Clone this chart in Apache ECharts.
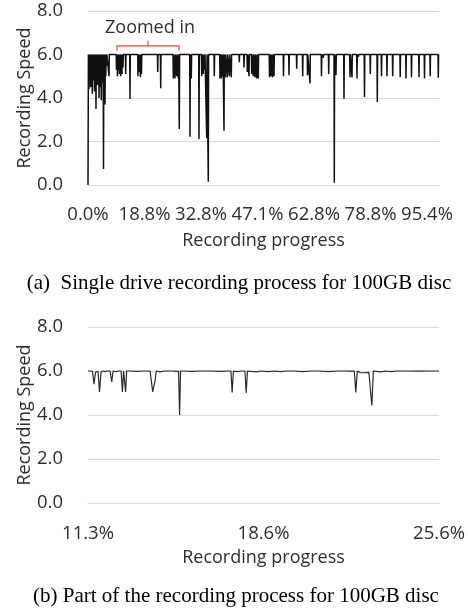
<!DOCTYPE html>
<html><head><meta charset="utf-8">
<script src="https://cdn.jsdelivr.net/npm/echarts@6/dist/echarts.min.js"></script>
<style>html,body{margin:0;padding:0;background:#fff}#c{width:468px;height:615px}</style>
</head><body><div id="c"></div>
<script>
// ---- Data ----
const yTicks = [0, 2, 4, 6, 8];
// (a) full recording: x = sample index, y = speed
const progressLabelsA = ['0.0%', '18.8%', '32.8%', '47.1%', '62.8%', '78.8%', '95.4%'];
const labelStepA = 113;
const sampleMaxA = 702;
const speedA = [
[0,0],[0.8,6.0],
[2,4.4],[3,6.0],[4,5.3],[4.7,6.0],[5.4,4.5],[6.2,6.0],[7,5.0],[7.8,6.0],[8.6,4.2],[9.3,6.0],[10,5.5],[10.7,6.0],
[11.4,4.8],[12.2,6.0],[13,4.3],[13.8,6.0],[14.6,5.2],[15.3,6.0],[16,3.5],[16.7,6.0],[17.4,4.9],[18.2,6.0],[19,4.6],
[19.8,6.0],[20.6,5.4],[21.3,6.0],[22,4.0],[22.8,6.0],[23.6,4.5],[24.3,6.0],[25,5.1],[25.8,6.0],[26.6,3.9],[27.3,6.0],
[28,4.7],[28.8,6.0],[29.6,5.3],[30.3,6.0],[31,0.74],[31.7,6.0],[32.4,4.6],[33.2,6.0],[34,3.7],[34.8,6.0],[35.6,5.0],
[36.3,6.0],[37,5.5],[37.7,6.0],
[41.4,6.0],[42,5.0],[42.6,6.0],
[56.4,6.0],[57,5.3],[57.6,6.0],[58.4,6.0],[59,5.0],[59.6,6.0],[60.4,6.0],[61,5.3],[61.6,6.0],[62.4,6.0],[63,5.1],[63.6,6.0],
[64.8,6.0],[65.4,5.0],[66,6.0],[67.4,6.0],[68,5.1],[68.6,6.0],[69.4,6.0],[70,5.4],[70.6,6.0],
[74.8,6.0],[75.4,5.1],[76,6.0],[83.4,6.0],[84,3.95],[84.6,6.0],
[99.4,6.0],[100,5.0],[100.6,6.0],[101.4,6.0],[102,5.2],[102.6,6.0],[104.4,6.0],[105,4.96],[105.6,6.0],[106.4,6.0],[107,5.1],[107.6,6.0],
[138.8,6.0],[139.4,5.2],[140,6.0],[144.8,6.0],[145.4,4.45],[146,6.0],
[170,6.0],[170.6,4.9],[171.2,6.0],[173.4,6.0],[174,4.9],[174.6,6.0],[176.8,6.0],[177.4,5.0],[178,6.0],[180,6.0],[180.6,4.9],[181.2,6.0],
[182,6.0],[182.6,2.57],[183.2,6.0],
[203.4,6.0],[204,2.22],[204.6,6.0],[206,6.0],[206.6,4.9],[207.2,6.0],
[221.4,6.0],[222,2.11],[222.6,6.0],[226.8,6.0],[227.4,5.0],[228,6.0],[230,6.0],[230.6,5.1],[231.2,6.0],[232.8,6.0],[233.4,5.3],[234,6.0],
[236.8,6.0],[237.4,2.15],[238,6.0],[240,6.0],[240.6,0.15],[241.2,6.0],
[252,6.0],[252.6,5.0],[253.2,6.0],
[263.4,6.0],[264,4.9],[264.6,6.0],[266,6.0],[266.6,4.9],[267.2,6.0],[268.8,6.0],[269.4,5.0],[270,6.0],[271.4,6.0],[272,2.5],[272.6,6.0],
[274,6.0],[274.6,4.95],[275.2,6.0],[278,6.0],[278.6,4.95],[279.2,6.0],[282,6.0],[282.6,5.0],[283.2,6.0],[286,6.0],[286.6,4.95],[287.2,6.0],
[302,6.0],[302.6,5.65],[303.2,6.0],[311.4,6.0],[312,5.4],[312.6,6.0],[318,6.0],[318.6,5.2],[319.2,6.0],[321.4,6.0],[322,5.0],[322.6,6.0],
[326.8,6.0],[327.4,5.1],[328,6.0],[330,6.0],[330.6,5.0],[331.2,6.0],[333.4,6.0],[334,4.95],[334.6,6.0],[336.8,6.0],[337.4,4.9],[338,6.0],
[340,6.0],[340.6,4.9],[341.2,6.0],
[362.4,6.0],[363,4.95],[363.6,6.0],[365.4,6.0],[366,5.0],[366.6,6.0],[368.4,6.0],[369,4.95],[369.6,6.0],[371.4,6.0],[372,5.0],[372.6,6.0],
[390.4,6.0],[391,5.0],[391.6,6.0],[401.4,6.0],[402,5.05],[402.6,6.0],[416.8,6.0],[417.4,5.35],[418,6.0],
[428.8,6.0],[429.4,5.0],[430,6.0],[438.4,6.0],[439,5.05],[439.6,6.0],[443.4,6.0],[444,4.67],[444.6,6.0],
[466.4,6.0],[467,5.0],[467.6,6.0],[470,6.0],[470.6,5.85],[471.2,6.0],[480.8,6.0],[481.4,5.1],[482,6.0],
[492,6.0],[492.6,0.1],[493.2,6.0],[495.4,6.0],[496,5.05],[496.6,6.0],
[511.4,6.0],[512,3.97],[512.6,6.0],[523.4,6.0],[524,4.95],[524.6,6.0],[527.4,6.0],[528,4.95],[528.6,6.0],
[537.4,6.0],[538,4.9],[538.6,6.0],[540.4,6.0],[541,5.9],[541.6,6.0],[552.4,6.0],[553,4.05],[553.6,6.0],
[564,6.0],[564.6,5.1],[565.2,6.0],[578,6.0],[578.6,3.82],[579.2,6.0],[586.4,6.0],[587,5.0],[587.6,6.0],
[597.4,6.0],[598,5.0],[598.6,6.0],[608.8,6.0],[609.4,5.0],[610,6.0],[623.8,6.0],[624.4,4.95],[625,6.0],
[635.4,6.0],[636,4.9],[636.6,6.0],[646.4,6.0],[647,4.95],[647.6,6.0],[661.4,6.0],[662,4.95],[662.6,6.0],
[672.4,6.0],[673,4.9],[673.6,6.0],[683.8,6.0],[684.4,5.0],[685,6.0],[700,6.0],[700.6,4.93],[701.2,6.0],[702,6.0]
];
// zoomed-in span marked on (a): [start sample, end sample, bracket level]
const zoomSpan = [[58, 182, 6.4]];

// (b) zoomed part
const progressLabelsB = ['11.3%', '18.6%', '25.6%'];
const labelStepB = 175;
const sampleMaxB = 350;
const speedB = [
[0,6.0],[2,6.0],[4.5,5.98],[6,5.4],[7.5,5.95],[9,6.0],[10,5.98],[11.5,5.05],[13,5.95],[15,6.0],[17,5.97],[19,6.0],
[22,6.0],[23.7,5.5],[25,6.0],[28,5.97],[31,6.0],[33,6.0],[34.3,5.05],[35.5,6.0],[36.5,6.0],[37.5,5.05],[38.5,6.0],
[42,6.0],[48,5.98],[55,6.0],[60,6.0],[62,5.98],[63,5.6],[64.5,5.05],[66,5.1],[67,5.6],[68,6.0],[72,5.96],[76,6.0],
[84,6.0],[88,5.98],[90.3,6.0],[91.3,4.0],[92.3,6.0],[96,6.0],[104,5.98],[112,6.0],[124,6.0],[132,5.98],[140,6.0],
[142.5,6.0],[143.7,5.02],[145,6.0],[149,5.97],[153,6.0],[156.5,6.0],[157.7,5.0],[159,6.0],[163,5.98],[168,5.96],
[172,6.0],[180,5.97],[186,6.0],[192,5.97],[198,6.0],[206,6.0],[214,5.97],[222,6.0],[230,6.0],[240,5.97],[248,6.0],
[256,6.0],[262,5.99],[265.5,6.0],[267,5.03],[268.5,6.0],[271,5.93],[276,5.92],[280,5.94],[281.5,5.97],[283,4.43],
[284.5,6.0],[288,5.98],[292,5.96],[296,6.0],[302,5.97],[308,6.0],[320,6.0],[330,5.99],[340,6.0],[350,6.0]
];
const captionA = '(a)  Single drive recording process for 100GB disc';
const captionB = '(b) Part of the recording process for 100GB disc';
const yName = 'Recording Speed';
const xName = 'Recording progress';

// ---- Chart ----
const FONT = 'Open Sans';
const TXT = '#2e2e2e';
const GRID = '#d9d9d9';
const chart = echarts.init(document.getElementById('c'), null, {renderer: 'canvas'});

function xAxisCfg(gridIndex, max, step, labels, margin, gap) {
  return {
    type: 'value', gridIndex: gridIndex, min: 0, max: max, interval: step,
    axisLine: {show: true, lineStyle: {color: GRID, width: 1}},
    axisTick: {show: false}, splitLine: {show: false},
    axisLabel: {
      margin: margin, color: TXT, fontFamily: FONT, fontSize: 18.5,
      showMaxLabel: true,
      formatter: function (v) {
        const i = Math.round(v / step);
        return (Math.abs(v - i * step) < 1e-6 && labels[i] !== undefined) ? labels[i] : '';
      }
    },
    name: xName, nameLocation: 'middle', nameGap: gap, nameMoveOverlap: false,
    nameTextStyle: {color: TXT, fontFamily: FONT, fontSize: 18}
  };
}
function yAxisCfg(gridIndex) {
  return {
    type: 'value', gridIndex: gridIndex, min: yTicks[0], max: yTicks[yTicks.length - 1], interval: 2,
    axisLine: {show: false}, axisTick: {show: false},
    splitLine: {show: true, lineStyle: {color: GRID, width: 1}},
    axisLabel: {margin: 25, color: TXT, fontFamily: FONT, fontSize: 18.5, formatter: v => v.toFixed(1)},
    name: yName, nameLocation: 'middle', nameGap: 54, nameRotate: 90, nameMoveOverlap: false,
    nameTextStyle: {color: TXT, fontFamily: FONT, fontSize: 18}
  };
}

chart.setOption({
  animation: false,
  backgroundColor: '#fff',
  grid: [
    {left: 88, top: 11, width: 351, height: 174},
    {left: 88, top: 327, width: 352, height: 176}
  ],
  xAxis: [
    xAxisCfg(0, sampleMaxA, labelStepA, progressLabelsA, 20, 47),
    xAxisCfg(1, sampleMaxB, labelStepB, progressLabelsB, 21, 46)
  ],
  yAxis: [yAxisCfg(0), yAxisCfg(1)],
  series: [
    {type: 'line', xAxisIndex: 0, yAxisIndex: 0, data: speedA, showSymbol: false, symbol: 'none',
     sampling: null, lineStyle: {color: '#111', width: 1.5}, z: 3},
    {type: 'line', xAxisIndex: 1, yAxisIndex: 1, data: speedB, showSymbol: false, symbol: 'none',
     lineStyle: {color: '#2a2a2a', width: 1.2}, z: 3},
    {type: 'custom', xAxisIndex: 0, yAxisIndex: 0, data: zoomSpan, encode: {x: [0, 1], y: 2}, z: 5,
     renderItem: function (params, api) {
       const a = api.coord([api.value(0), api.value(2)]);
       const b = api.coord([api.value(1), api.value(2)]);
       const mid = (a[0] + b[0]) / 2;
       const red = '#e8462c';
       return {type: 'group', children: [
         {type: 'polyline', shape: {points: [[a[0], a[1] + 5], [a[0], a[1]], [b[0], b[1]], [b[0], b[1] + 5]]},
          style: {stroke: red, fill: null, lineWidth: 1.2}},
         {type: 'line', shape: {x1: mid, y1: a[1], x2: mid, y2: a[1] - 5}, style: {stroke: red, lineWidth: 1.2}},
         {type: 'text', x: mid + 2, y: a[1] - 18,
          style: {text: 'Zoomed in', fill: TXT, font: '18px "Open Sans"', align: 'center', verticalAlign: 'middle'}}
       ]};
     }}
  ],
  graphic: [
    {type: 'text', x: 239, y: 283, style: {text: captionA, fill: '#000', font: '21px "Liberation Serif"', align: 'center', verticalAlign: 'middle'}},
    {type: 'text', x: 236, y: 596, style: {text: captionB, fill: '#000', font: '21px "Liberation Serif"', align: 'center', verticalAlign: 'middle'}}
  ]
});
</script></body></html>
